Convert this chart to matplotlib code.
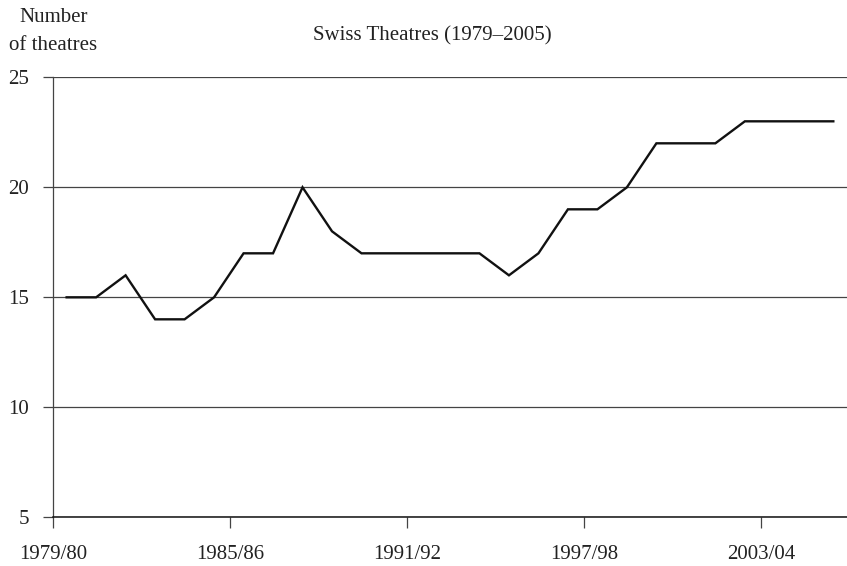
import matplotlib.pyplot as plt
import numpy as np

seasons = ["1979/80", "1980/81", "1981/82", "1982/83", "1983/84", "1984/85",
           "1985/86", "1986/87", "1987/88", "1988/89", "1989/90", "1990/91",
           "1991/92", "1992/93", "1993/94", "1994/95", "1995/96", "1996/97",
           "1997/98", "1998/99", "1999/00", "2000/01", "2001/02", "2002/03",
           "2003/04", "2004/05", "2005/06"]
theatres = [15, 15, 16, 14, 14, 15, 17, 17, 20, 18, 17, 17, 17, 17, 17, 16,
            17, 19, 19, 20, 22, 22, 22, 23, 23, 23, 23]
yticks = [5, 10, 15, 20, 25]
xlabel_every = 6

plt.rcParams['font.family'] = ['Liberation Serif', 'DejaVu Serif']

fig = plt.figure(figsize=(8.47, 5.66), dpi=100)
ax = fig.add_axes([0.063, 0.086, 0.94, 0.7774])

x = np.arange(len(seasons)) + 0.45
ax.plot(x, theatres, color='#111111', lw=1.7, solid_joinstyle='miter', zorder=3)

ax.set_xlim(0, len(seasons))
ax.set_ylim(5, 25)
ax.set_yticks(yticks)
ax.set_yticklabels([str(v) for v in yticks])
tick_pos = np.arange(0, len(seasons), xlabel_every)
ax.set_xticks(tick_pos)
ax.set_xticklabels([seasons[i] for i in tick_pos])

ax.grid(axis='y', color='#444444', lw=0.9)
ax.set_axisbelow(True)
for s in ['top', 'right']:
    ax.spines[s].set_visible(False)
ax.spines['left'].set_color('#444444')
ax.spines['left'].set_linewidth(0.9)
ax.spines['bottom'].set_color('#111111')
ax.spines['bottom'].set_linewidth(1.1)

ax.tick_params(axis='y', length=7.5, width=0.9, color='#444444', pad=10,
               labelsize=15, labelcolor='#222222')
ax.tick_params(axis='x', length=8, width=0.9, color='#444444', pad=12,
               labelsize=15, labelcolor='#222222')

fig.text(0.063, 0.944, "Number\nof theatres", ha='center', va='center',
         fontsize=15, color='#222222', linespacing=1.6)
fig.text(0.51, 0.936, "Swiss Theatres (1979–2005)", ha='center', va='center',
         fontsize=15, color='#222222')

fig.savefig("out.png", dpi=100)
